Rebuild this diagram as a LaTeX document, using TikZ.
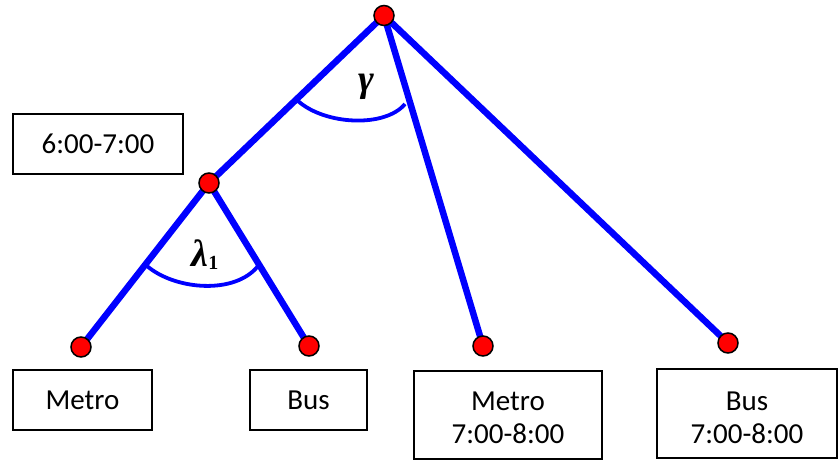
\documentclass[tikz,border=0pt]{standalone}
\usepackage{fontspec}
\setmainfont{Carlito}
\newfontfamily\greekfont{Liberation Serif}
\begin{document}
\begin{tikzpicture}[x=1pt,y=-1pt,
  edge/.style={draw=blue,line width=6.5pt},
  anglearc/.style={draw=blue,line width=3.8pt},
  dot/.style={circle,fill=red,draw=black,line width=1.5pt,minimum size=20pt,inner sep=0pt},
  label box/.style={draw=black,line width=1.3pt,font=\fontsize{29}{33}\selectfont,align=center,inner sep=0pt},
  greek/.style={font=\greekfont\bfseries\itshape\fontsize{38}{38}\selectfont,inner sep=0pt}]
\useasboundingbox (0,0) rectangle (838,460);
% node positions
\coordinate (pr) at (384,15.5);
\coordinate (pa) at (209,183);
\coordinate (pl1) at (81,347);
\coordinate (pl2) at (309,346);
\coordinate (pl3) at (483,346);
\coordinate (pl4) at (728,343);
% edges
\draw[edge] (pr) -- (pa);
\draw[edge] (pr) -- (pl3);
\draw[edge] (pr) -- (pl4);
\draw[edge] (pa) -- (pl1);
\draw[edge] (pa) -- (pl2);
% angle arcs
\coordinate (ga) at (298,101);
\coordinate (gb) at (405,104);
\draw[anglearc] (ga) .. controls (325,125) and (385,128) .. (gb);
\coordinate (la) at (147,266);
\coordinate (lb) at (258,266);
\draw[anglearc] (la) .. controls (175,290) and (235,295) .. (lb);
\node[greek,anchor=base] (gam) at (366,92) {γ};
\node[greek,anchor=base] (lam) at (205,266) {λ\raisebox{-0.1em}{\fontsize{20}{20}\selectfont\upshape 1}};
% dots
\node[dot] (root) at (pr) {};
\node[dot] (a) at (pa) {};
\node[dot] (l1) at (pl1) {};
\node[dot] (l2) at (pl2) {};
\node[dot] (l3) at (pl3) {};
\node[dot] (l4) at (pl4) {};
% boxes
\node[label box,minimum width=170pt,minimum height=60pt] (b0) at (98,144) {6:00-7:00};
\node[label box,minimum width=139pt,minimum height=60pt] (b1) at (82.5,400) {Metro};
\node[label box,minimum width=117pt,minimum height=60pt] (b2) at (308.5,400) {Bus};
\draw[line width=1.3pt] (414,459) rectangle (602,371);
\node[font=\fontsize{29}{33}\selectfont,align=center,anchor=base] (b3) at (508,443) {Metro\\7:00-8:00};
\draw[line width=1.3pt] (657,458) rectangle (837,369);
\node[font=\fontsize{29}{33}\selectfont,align=center,anchor=base] (b4) at (747,443) {Bus\\7:00-8:00};
\end{tikzpicture}
\end{document}
